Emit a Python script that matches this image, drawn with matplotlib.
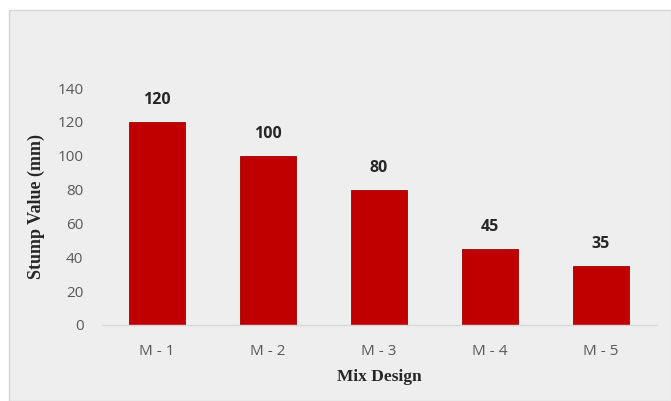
import matplotlib.pyplot as plt
from matplotlib.patches import Rectangle

mezclas = ["M - 1", "M - 2", "M - 3", "M - 4", "M - 5"]
asentamiento = [120, 100, 80, 45, 35]
marcas_y = [0, 20, 40, 60, 80, 100, 120, 140]

fig = plt.figure(figsize=(6.71, 4.01), dpi=100)
fig.patch.set_facecolor("white")

# marco gris del grafico
fondo = Rectangle((9 / 671, 0), 1 - 9 / 671, 1 - 10 / 401, transform=fig.transFigure,
                  facecolor="#eeeeee", edgecolor="#d6d6d6", linewidth=1.0, zorder=-10)
fig.add_artist(fondo)

ax = fig.add_axes([101.5 / 671, 76 / 401, 555 / 671, 237 / 401])
ax.set_facecolor("none")
ax.set_zorder(5)

x = range(len(mezclas))
barras = ax.bar(x, asentamiento, width=0.5, color="#c00000", edgecolor="#a00000", linewidth=0.6)

for xi, v in zip(x, asentamiento):
    ax.text(xi, v + 8, str(v), ha="center", va="bottom", fontsize=11.5,
            fontweight="bold", color="#262626", family="Open Sans")

ax.set_xlim(-0.5, len(mezclas) - 0.5)
ax.set_ylim(0, 140)
ax.set_yticks(marcas_y)
ax.set_xticks(list(x))
ax.set_xticklabels(mezclas)

for lado in ["top", "right", "left"]:
    ax.spines[lado].set_visible(False)
ax.spines["bottom"].set_color("#d9d9d9")
ax.spines["bottom"].set_linewidth(1.0)

ax.tick_params(axis="both", length=0, labelsize=11, labelcolor="#595959")
ax.tick_params(axis="x", pad=14)
ax.tick_params(axis="y", pad=13)
for t in ax.get_xticklabels() + ax.get_yticklabels():
    t.set_family("Open Sans")

ax.set_ylabel("Stump Value (mm)", family="Liberation Serif", fontweight="bold",
              fontsize=13, color="#262626", labelpad=9)
ax.set_xlabel("Mix Design", family="Liberation Serif", fontweight="bold",
              fontsize=12.5, color="#262626", labelpad=7)

fig.savefig("out.png", dpi=100)
